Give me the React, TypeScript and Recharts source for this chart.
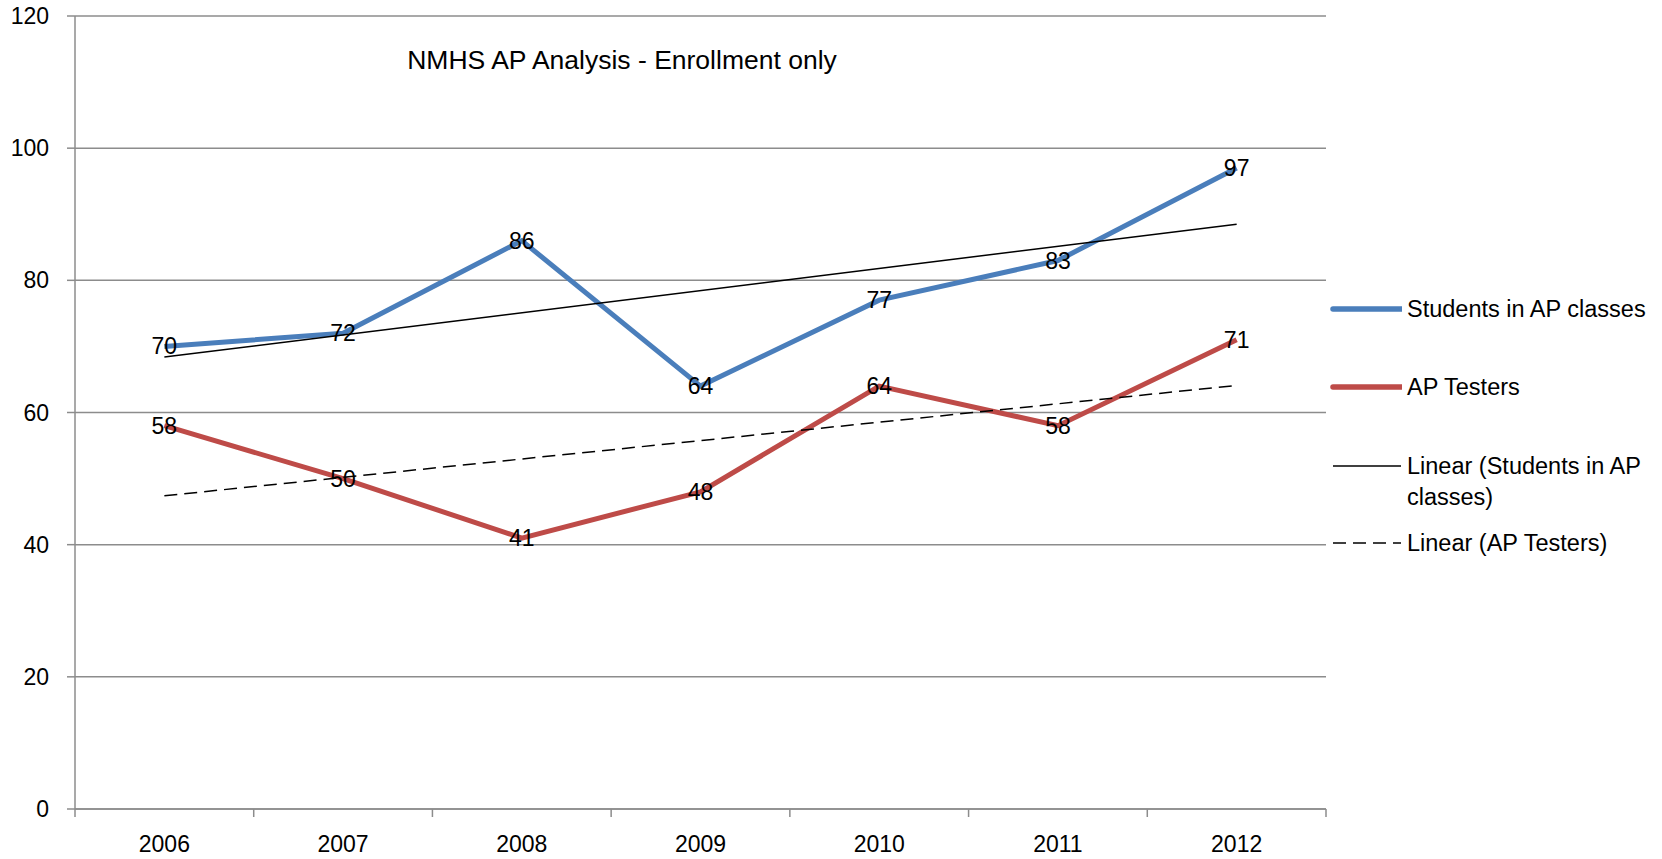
import React from 'react';
import { LineChart, Line, XAxis, YAxis, CartesianGrid, Legend, LabelList } from 'recharts';

const years = ['2006', '2007', '2008', '2009', '2010', '2011', '2012'];
const studentsInAp = [70, 72, 86, 64, 77, 83, 97];
const apTesters = [58, 50, 41, 48, 64, 58, 71];
// trendline ends; the gap between is bridged with connectNulls
const studentsTrend = [68.4, null, null, null, null, null, 88.5];
const testersTrend = [47.4, null, null, null, null, null, 64.1];
const yTicks = [0, 20, 40, 60, 80, 100, 120];

const W = 1662;
const H = 859;
const PLOT_LEFT = 75;
const PLOT_RIGHT = 1326;
const PLOT_BOTTOM = 809;
const BAND = (PLOT_RIGHT - PLOT_LEFT) / years.length;

const BLUE = '#4A7EBB';
const RED = '#BE4B48';
const GRID = '#8C8C8C';
const FONT = '"Liberation Sans", Arial, sans-serif';

const data = years.map((year, i) => ({
  year,
  students: studentsInAp[i],
  testers: apTesters[i],
  studentsTrend: studentsTrend[i],
  testersTrend: testersTrend[i],
}));

const XTick = (props: any) => {
  const { x, payload, index } = props;
  const left = x - BAND / 2;
  return (
    <g>
      <line x1={left} x2={left} y1={PLOT_BOTTOM} y2={PLOT_BOTTOM + 8} stroke={GRID} strokeWidth={1.5} />
      {index === years.length - 1 && (
        <line x1={x + BAND / 2} x2={x + BAND / 2} y1={PLOT_BOTTOM} y2={PLOT_BOTTOM + 8} stroke={GRID} strokeWidth={1.5} />
      )}
      <text x={x} y={852} textAnchor="middle" fontSize={23} fontFamily={FONT} fill="#000">
        {payload.value}
      </text>
    </g>
  );
};

const PointLabel = (props: any) => {
  const { x, y, value } = props;
  return (
    <text x={x} y={y} dy={8} textAnchor="middle" fontSize={23} fontFamily={FONT} fill="#000">
      {value}
    </text>
  );
};

const legendRows = [
  { lines: ['Students in AP classes'], color: BLUE, width: 5.5, dash: undefined, top: 309 },
  { lines: ['AP Testers'], color: RED, width: 5.5, dash: undefined, top: 387 },
  { lines: ['Linear (Students in AP', 'classes)'], color: '#000', width: 1.5, dash: undefined, top: 466 },
  { lines: ['Linear (AP Testers)'], color: '#000', width: 1.5, dash: '13 7', top: 543 },
];

const ChartLegend = () => (
  <div style={{ position: 'relative', width: 330, height: 300, fontFamily: FONT, fontSize: 23.5, color: '#000' }}>
    {legendRows.map((row) => (
      <div key={row.lines[0]} style={{ position: 'absolute', left: 0, top: row.top - 15 - 290 }}>
        <svg width={72} height={30} style={{ position: 'absolute', left: 0, top: 0 }}>
          <line
            x1={3}
            x2={71}
            y1={15}
            y2={15}
            stroke={row.color}
            strokeWidth={row.width}
            strokeLinecap={row.width > 2 ? 'round' : 'butt'}
            strokeDasharray={row.dash}
          />
        </svg>
        <div style={{ position: 'absolute', left: 77, top: 0, lineHeight: '31px', whiteSpace: 'nowrap' }}>
          {row.lines.map((l) => (
            <div key={l}>{l}</div>
          ))}
        </div>
      </div>
    ))}
  </div>
);

export default function App() {
  return (
    <div style={{ position: 'absolute', left: 0, top: 0, width: W, height: H, background: '#fff' }}>
      <div
        style={{
          position: 'absolute',
          left: 322,
          width: 600,
          top: 44,
          textAlign: 'center',
          fontFamily: FONT,
          fontSize: 26.5,
          lineHeight: '32px',
          color: '#000',
          zIndex: 2,
        }}
      >
        NMHS AP Analysis - Enrollment only
      </div>
      <LineChart width={W} height={H} data={data} margin={{ top: 16, right: W - PLOT_RIGHT, bottom: 0, left: 0 }}>
        <CartesianGrid vertical={false} stroke={GRID} strokeWidth={1.5} />
        <XAxis
          dataKey="year"
          scale="band"
          height={H - PLOT_BOTTOM}
          axisLine={{ stroke: GRID, strokeWidth: 1.5 }}
          tickLine={false}
          tick={<XTick />}
          interval={0}
        />
        <YAxis
          width={PLOT_LEFT}
          domain={[0, 120]}
          ticks={yTicks}
          interval={0}
          axisLine={{ stroke: GRID, strokeWidth: 1.5 }}
          tickLine={{ stroke: GRID, strokeWidth: 1.5 }}
          tickSize={8}
          tickMargin={18}
          tick={{ fontSize: 23, fontFamily: FONT, fill: '#000' }}
        />
        <Legend
          layout="vertical"
          align="center"
          verticalAlign="middle"
          content={<ChartLegend />}
          wrapperStyle={{ left: 1330, top: 290, width: 330 }}
        />
        <Line dataKey="students" stroke={BLUE} strokeWidth={5} dot={false} isAnimationActive={false} />
        <Line dataKey="testers" stroke={RED} strokeWidth={5} dot={false} isAnimationActive={false} />
        <Line dataKey="studentsTrend" stroke="#000" strokeWidth={1.5} dot={false} connectNulls isAnimationActive={false} />
        <Line
          dataKey="testersTrend"
          stroke="#000"
          strokeWidth={1.5}
          strokeDasharray="13 7"
          dot={false}
          connectNulls
          isAnimationActive={false}
        />
        <Line dataKey="students" stroke="none" dot={false} legendType="none" isAnimationActive={false}>
          <LabelList dataKey="students" content={<PointLabel />} />
        </Line>
        <Line dataKey="testers" stroke="none" dot={false} legendType="none" isAnimationActive={false}>
          <LabelList dataKey="testers" content={<PointLabel />} />
        </Line>
      </LineChart>
    </div>
  );
}
